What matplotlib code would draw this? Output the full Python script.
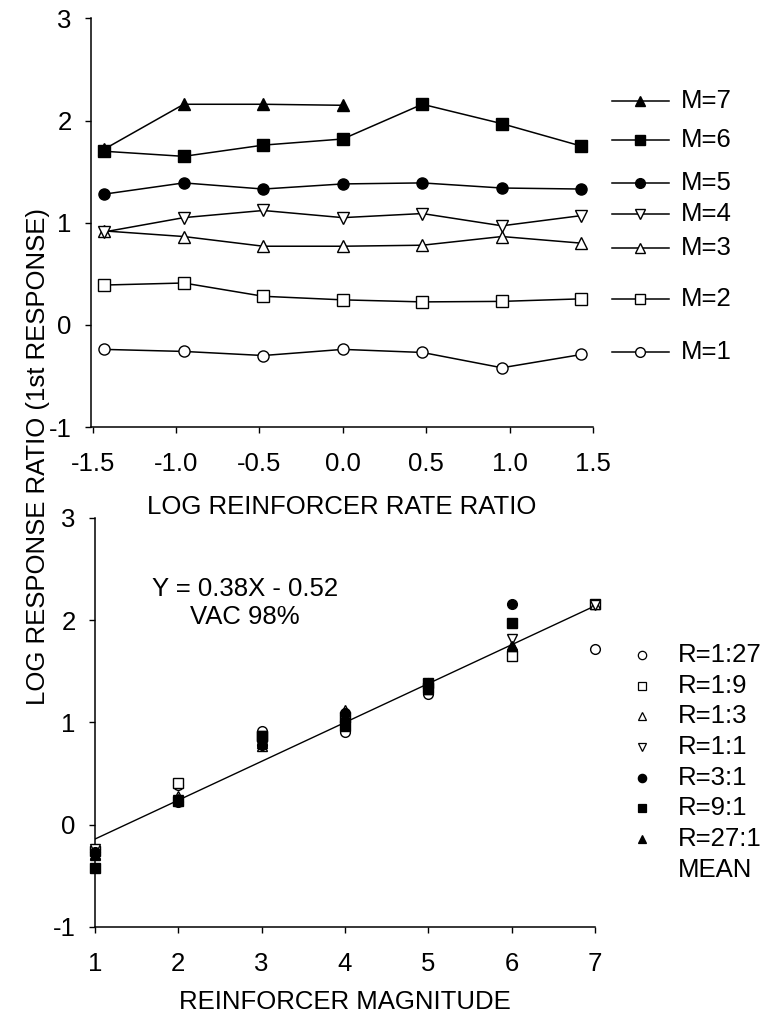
import numpy as np
import matplotlib
matplotlib.use("Agg")
import matplotlib.pyplot as plt

plt.rcParams['font.family'] = ['Liberation Sans', 'DejaVu Sans']

# log reinforcer rate ratios (R = 1:27 ... 27:1)
log_rate = [-1.431, -0.954, -0.477, 0.0, 0.477, 0.954, 1.431]
ratio_labels = ['R=1:27', 'R=1:9', 'R=1:3', 'R=1:1', 'R=3:1', 'R=9:1', 'R=27:1']
magnitudes = [1, 2, 3, 4, 5, 6, 7]

# log response ratio for each magnitude (rows) and rate ratio (columns)
m1 = [-0.24, -0.26, -0.30, -0.24, -0.27, -0.42, -0.29]
m2 = [0.39, 0.41, 0.28, 0.245, 0.225, 0.23, 0.255]
m3 = [0.92, 0.865, 0.77, 0.77, 0.78, 0.865, 0.80]
m4 = [0.91, 1.05, 1.12, 1.05, 1.09, 0.97, 1.07]
m5 = [1.28, 1.39, 1.33, 1.38, 1.39, 1.34, 1.33]
m6 = [1.70, 1.65, 1.76, 1.82, 2.16, 1.97, 1.75]
m7 = [1.72, 2.16, 2.16, 2.15, np.nan, np.nan, np.nan]
resp = np.array([m1, m2, m3, m4, m5, m6, m7])

# fitted line Y = 0.38X - 0.52, end points
fit_x = [1, 7]
fit_y = [-0.14, 2.14]

# legend rows for the top panel (y level of each key)
top_leg_y = [-0.27, 0.255, 0.75, 1.085, 1.39, 1.81, 2.19]

# marker and fill per series
marks = ['o', 's', '^', 'v', 'o', 's', '^']
fills = ['white', 'white', 'white', 'white', 'k', 'k', 'k']

FS = 18.5

fig = plt.figure(figsize=(7.61, 10.15), dpi=100)
ax1 = fig.add_axes([0.1196, 0.5793, 0.6596, 0.4025])
ax2 = fig.add_axes([0.1248, 0.0867, 0.657, 0.4030])

# top panel
for i in range(7):
    ax1.plot(log_rate, resp[i], color='k', lw=1.1, marker=marks[i],
             ms=8, mfc=fills[i], mec='k', mew=1.0, zorder=3, clip_on=False)
    ax1.plot([1.615, 1.955], [top_leg_y[i]] * 2, color='k', lw=1.1,
             marker=None, clip_on=False)
    ax1.plot([1.78], [top_leg_y[i]], marker=marks[i], ms=7, mfc=fills[i],
             mec='k', mew=1.0, clip_on=False, ls='none')
    ax1.text(2.03, top_leg_y[i], 'M=%d' % (i + 1), fontsize=FS,
             va='center', ha='left')

ax1.set_xlim(-1.51, 1.5)
ax1.set_ylim(-1, 3)
ax1.set_xticks([-1.5, -1.0, -0.5, 0.0, 0.5, 1.0, 1.5])
ax1.set_xticklabels(['-1.5', '-1.0', '-0.5', '0.0', '0.5', '1.0', '1.5'])
ax1.set_yticks([-1, 0, 1, 2, 3])
ax1.set_yticklabels(['-1', '0', '1', '2', '3'])
ax1.set_xlabel('LOG REINFORCER RATE RATIO', fontsize=FS, labelpad=14)

# bottom panel
for j in range(7):
    ax2.plot(magnitudes, resp[:, j], ls='none', marker=marks[j], ms=7,
             mfc=fills[j], mec='k', mew=1.0, zorder=3, clip_on=False)
ax2.plot(fit_x, fit_y, color='k', lw=1.0, zorder=2)

leg_y = 1.66
for j in range(7):
    ax2.plot([7.57], [leg_y], ls='none', marker=marks[j], ms=6,
             mfc=fills[j], mec='k', mew=0.9, clip_on=False)
    ax2.text(8.0, leg_y, ratio_labels[j], fontsize=FS, va='center', ha='left')
    leg_y -= 0.30
ax2.text(8.0, leg_y, 'MEAN', fontsize=FS, va='center', ha='left')

ax2.text(2.8, 2.31, 'Y = 0.38X - 0.52', fontsize=FS, ha='center', va='center')
ax2.text(2.8, 2.03, 'VAC 98%', fontsize=FS, ha='center', va='center')

ax2.set_xlim(1, 7)
ax2.set_ylim(-1, 3)
ax2.set_xticks(magnitudes)
ax2.set_yticks([-1, 0, 1, 2, 3])
ax2.set_yticklabels(['-1', '0', '1', '2', '3'])
ax2.set_xlabel('REINFORCER MAGNITUDE', fontsize=FS, labelpad=10)

for ax in (ax1, ax2):
    ax.spines['top'].set_visible(False)
    ax.spines['right'].set_visible(False)
    ax.spines['left'].set_linewidth(1.1)
    ax.spines['bottom'].set_linewidth(1.1)
    ax.tick_params(axis='x', direction='out', length=4, width=1,
                   labelsize=FS, pad=14)
    ax.tick_params(axis='y', direction='out', length=4, width=1,
                   labelsize=FS, pad=10)

fig.text(0.05, 0.55, 'LOG RESPONSE RATIO (1st RESPONSE)', fontsize=FS,
         rotation=90, ha='center', va='center')

fig.savefig('out.png', dpi=100)
